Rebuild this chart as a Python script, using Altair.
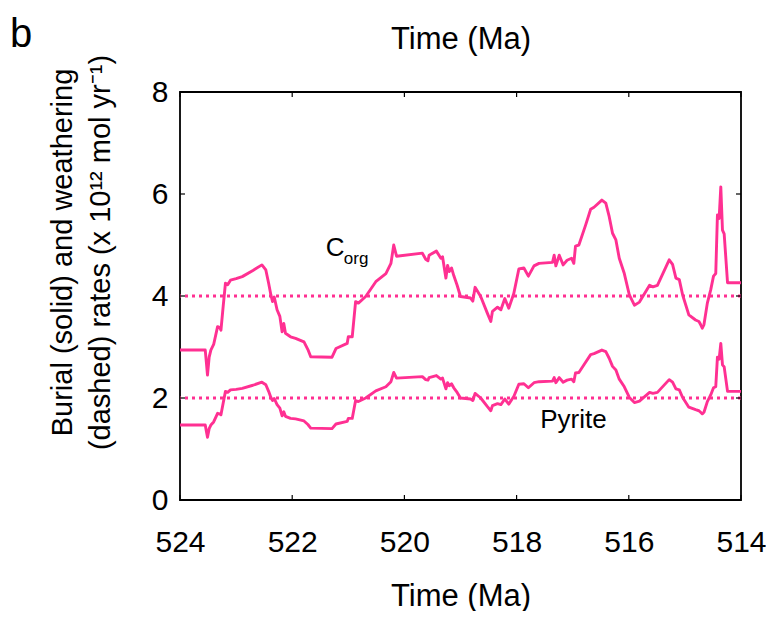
import altair as alt
import pandas as pd

# Time (Ma) and C_org burial rate (x 10^12 mol/yr)
time_ma = [524.00, 523.55, 523.53, 523.51, 523.48, 523.45, 523.40, 523.33, 523.29, 523.27,
           523.23, 523.19, 523.15, 523.10, 523.00, 522.89, 522.70, 522.54, 522.47, 522.42,
           522.38, 522.35, 522.32, 522.27, 522.22, 522.18, 522.15, 522.12, 522.03, 521.94,
           521.79, 521.72, 521.67, 521.29, 521.22, 521.02, 521.00, 520.93, 520.87, 520.82,
           520.69, 520.51, 520.33, 520.24, 520.19, 520.14, 519.68, 519.62, 519.58, 519.56,
           519.43, 519.35, 519.32, 519.26, 519.23, 519.20, 519.16, 519.12, 519.06, 519.00,
           518.82, 518.78, 518.74, 518.64, 518.52, 518.46, 518.43, 518.34, 518.28, 518.21,
           518.14, 518.05, 517.96, 517.87, 517.79, 517.69, 517.60, 517.36, 517.33, 517.30,
           517.24, 517.17, 517.10, 517.02, 516.98, 516.95, 516.89, 516.77, 516.68, 516.62,
           516.48, 516.41, 516.35, 516.29, 516.23, 516.17, 516.08, 515.99, 515.90, 515.81,
           515.63, 515.57, 515.49, 515.28, 515.22, 515.16, 515.10, 515.04, 514.93, 514.81,
           514.75, 514.72, 514.69, 514.66, 514.60, 514.54, 514.49, 514.45, 514.42, 514.39,
           514.36, 514.33, 514.30, 514.24, 514.00]

corg_burial = [2.94, 2.94, 2.70, 2.45, 2.80, 2.94, 3.05, 3.40, 3.38, 3.33,
               3.80, 4.25, 4.22, 4.31, 4.34, 4.38, 4.50, 4.61, 4.51, 4.25,
               4.02, 3.89, 3.98, 3.73, 3.60, 3.30, 3.46, 3.27, 3.20, 3.17,
               3.10, 2.95, 2.81, 2.80, 2.97, 3.07, 3.20, 3.20, 3.89, 3.86,
               3.99, 4.28, 4.44, 4.64, 5.00, 4.78, 4.84, 4.72, 4.69, 4.80,
               4.88, 4.74, 4.77, 4.35, 4.60, 4.48, 4.55, 4.40, 4.21, 3.99,
               3.96, 3.90, 4.17, 3.99, 3.66, 3.50, 3.70, 3.78, 3.73, 3.95,
               3.76, 4.05, 4.53, 4.55, 4.39, 4.59, 4.64, 4.66, 4.80, 4.59,
               4.80, 4.61, 4.70, 4.74, 4.64, 4.98, 5.00, 5.39, 5.70, 5.74,
               5.88, 5.82, 5.56, 5.23, 5.10, 4.74, 4.44, 4.02, 3.82, 3.88,
               4.21, 4.18, 4.21, 4.71, 4.62, 4.35, 4.32, 4.02, 3.63, 3.53,
               3.50, 3.44, 3.37, 3.44, 3.86, 4.12, 4.39, 4.44, 5.59, 5.52,
               6.14, 5.29, 5.22, 4.26, 4.26]

pyrite_burial = [1.47, 1.47, 1.35, 1.23, 1.40, 1.47, 1.53, 1.70, 1.69, 1.67,
                 1.90, 2.13, 2.11, 2.16, 2.17, 2.19, 2.25, 2.31, 2.26, 2.13,
                 2.01, 1.95, 1.99, 1.87, 1.80, 1.65, 1.73, 1.64, 1.60, 1.59,
                 1.55, 1.48, 1.41, 1.40, 1.49, 1.54, 1.60, 1.60, 1.95, 1.93,
                 2.00, 2.14, 2.22, 2.32, 2.50, 2.39, 2.42, 2.36, 2.35, 2.40,
                 2.44, 2.37, 2.39, 2.18, 2.30, 2.24, 2.28, 2.20, 2.11, 2.00,
                 1.98, 1.95, 2.09, 2.00, 1.83, 1.75, 1.85, 1.89, 1.87, 1.98,
                 1.88, 2.03, 2.27, 2.28, 2.20, 2.30, 2.32, 2.33, 2.40, 2.30,
                 2.40, 2.31, 2.35, 2.37, 2.32, 2.49, 2.50, 2.70, 2.85, 2.87,
                 2.94, 2.91, 2.78, 2.62, 2.55, 2.37, 2.22, 2.01, 1.91, 1.94,
                 2.11, 2.09, 2.11, 2.36, 2.31, 2.18, 2.16, 2.01, 1.82, 1.77,
                 1.75, 1.72, 1.69, 1.72, 1.93, 2.06, 2.20, 2.22, 2.80, 2.76,
                 3.07, 2.65, 2.61, 2.13, 2.13]

# Weathering rates (dashed lines)
weathering_rates = [4.0, 2.0]

x_ticks = [524, 522, 520, 518, 516, 514]
y_ticks = [0, 2, 4, 6, 8]

# annotation labels
label_text = ["C", "org", "Pyrite"]
label_x = [521.40, 521.08, 517.58]
label_y = [4.78, 4.62, 1.41]
label_size = [26, 17, 26]

PINK = "#FF3092"
FONT = "Liberation Sans"
W, H = 561, 408

rows = []
for t, c in zip(time_ma, corg_burial):
    rows.append({"t": t, "v": c, "s": "Corg"})
for t, p in zip(time_ma, pyrite_burial):
    rows.append({"t": t, "v": p, "s": "Pyrite"})
df = pd.DataFrame(rows)

xscale = alt.Scale(domain=[514, 524], reverse=True, nice=False, zero=False)
yscale = alt.Scale(domain=[0, 8], nice=False)

xax = alt.Axis(orient="bottom", values=x_ticks, format="d", ticks=False, domain=False, grid=False,
               labelFont=FONT, labelFontSize=30, labelColor="black", labelPadding=27,
               labelFlush=False,
               title="Time (Ma)", titleFont=FONT, titleFontSize=31, titleFontWeight="normal",
               titleColor="black", titlePadding=24)
yax = alt.Axis(values=y_ticks, format="d", ticks=False, domain=False, grid=False,
               labelFont=FONT, labelFontSize=30, labelColor="black", labelPadding=12,
               labelFlush=False,
               title=["Burial (solid) and weathering", "(dashed) rates (x 10¹² mol yr⁻¹)"],
               titleFont=FONT, titleFontSize=29, titleFontWeight="normal", titleColor="black",
               titleAngle=-90, titleBaseline="middle", titleAlign="center",
               titleX=-118, titleY=160, titleLineHeight=38)

lines = alt.Chart(df).mark_line(color=PINK, strokeWidth=2.9, strokeJoin="round").encode(
    x=alt.X("t:Q", scale=xscale, axis=xax),
    y=alt.Y("v:Q", scale=yscale, axis=yax),
    detail="s:N",
)

top_axis = alt.Chart(pd.DataFrame({"t": [524]})).mark_point(opacity=0).encode(
    x=alt.X("t:Q", scale=xscale,
            axis=alt.Axis(orient="top", labels=False, ticks=False, domain=False, grid=False,
                          title="Time (Ma)", titleFont=FONT, titleFontSize=31,
                          titleFontWeight="normal", titleColor="black", titlePadding=37)),
)

weath = alt.Chart(pd.DataFrame({"w": weathering_rates})).mark_rule(
    color=PINK, strokeWidth=3, strokeDash=[3, 4]).encode(y=alt.Y("w:Q", scale=yscale, axis=yax))

xt = pd.DataFrame({"t": x_ticks})
yt = pd.DataFrame({"v": y_ticks})
xtick_b = alt.Chart(xt).mark_rule(color="black", strokeWidth=1.2).encode(
    x=alt.X("t:Q", scale=xscale, axis=None), y=alt.value(H), y2=alt.value(H - 5))
xtick_t = alt.Chart(xt).mark_rule(color="black", strokeWidth=1.2).encode(
    x=alt.X("t:Q", scale=xscale, axis=None), y=alt.value(0), y2=alt.value(5))
ytick_l = alt.Chart(yt).mark_rule(color="black", strokeWidth=1.2).encode(
    y=alt.Y("v:Q", scale=yscale, axis=yax), x=alt.value(0), x2=alt.value(5))
ytick_r = alt.Chart(yt).mark_rule(color="black", strokeWidth=1.2).encode(
    y=alt.Y("v:Q", scale=yscale, axis=yax), x=alt.value(W), x2=alt.value(W - 5))

labels = alt.Chart(pd.DataFrame({"txt": label_text, "x": label_x, "y": label_y,
                                 "fs": label_size})).mark_text(
    align="left", baseline="alphabetic", font=FONT, color="black").encode(
    x=alt.X("x:Q", scale=xscale, axis=None), y=alt.Y("y:Q", scale=yscale, axis=yax),
    text="txt:N", size=alt.Size("fs:Q", scale=None, legend=None))

panel = alt.Chart(pd.DataFrame({"p": ["b"]})).mark_text(
    align="left", baseline="alphabetic", font=FONT, fontSize=40, color="black").encode(
    x=alt.value(-170), y=alt.value(-45), text="p:N")

chart = alt.layer(lines, top_axis, weath, xtick_b, xtick_t, ytick_l, ytick_r, labels, panel).resolve_axis(
    x="independent").properties(
    width=W, height=H,
    background="white",
    autosize=alt.AutoSizeParams(type="none"),
    padding={"left": 172, "top": 84, "right": 25, "bottom": 111},
).configure_view(stroke="black", strokeWidth=1.8)

chart.save("out.html", embed_options={"renderer": "svg", "actions": False})
